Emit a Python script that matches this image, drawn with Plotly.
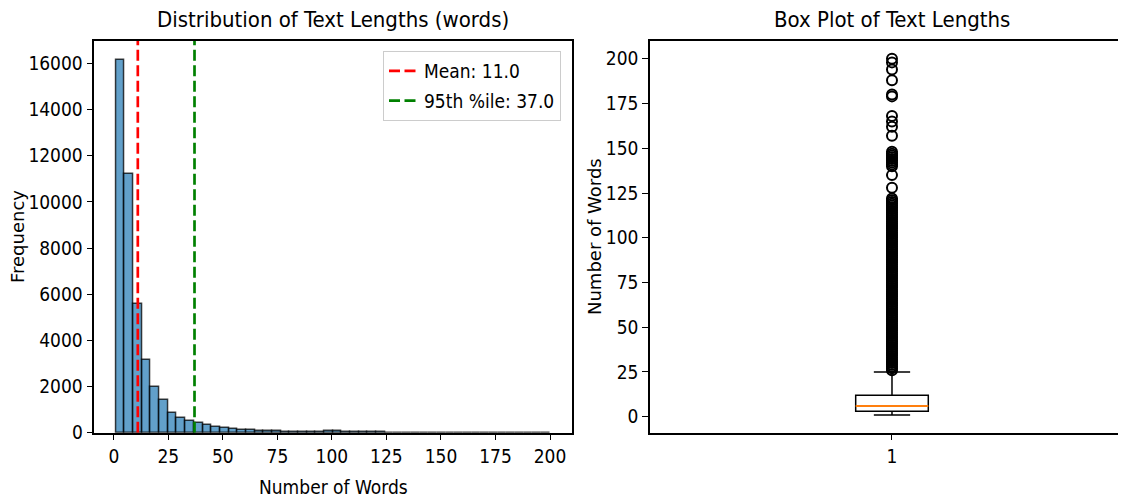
import plotly.graph_objects as go

# ---------------- data ----------------
bin_start = 1.0
bin_width = 3.98
hist_counts = [16160, 11190, 5595, 3170, 1960, 1410, 875, 620, 490, 400,
               330, 260, 190, 145, 115, 100, 75, 60, 55, 50,
               45, 42, 40, 45, 65, 60, 35, 30, 25, 20,
               10, 8, 6, 5, 5, 4, 4, 3, 3, 3,
               2, 2, 2, 2, 1, 1, 1, 1, 1, 2]
mean_val = 11.0
p95_val = 37.0

box_q1 = 3
box_median = 6
box_q3 = 12
box_low = 1
box_high = 25
outliers = [26, 27, 28, 29, 30, 31, 32, 33, 34, 35, 36, 37, 38, 39, 40, 41, 42, 43, 44, 45,
            46, 47, 48, 49, 50, 51, 52, 53, 54, 55, 56, 57, 58, 59, 60, 61, 62, 63, 64, 65,
            66, 67, 68, 69, 70, 71, 72, 73, 74, 75, 76, 77, 78, 79, 80, 81, 82, 83, 84, 85,
            86, 87, 88, 89, 90, 91, 92, 93, 94, 95, 96, 97, 98, 99, 100, 101, 102, 103, 104,
            105, 106, 107, 108, 109, 110, 111, 112, 113, 114, 115, 116, 117, 118, 119, 120,
            121, 122, 128, 135, 140, 141, 142, 143, 144, 145, 146, 147, 148,
            157, 162, 165, 168, 179, 180, 188, 194, 198, 200]

x_ticks_hist = [0, 25, 50, 75, 100, 125, 150, 175, 200]
y_ticks_hist = [0, 2000, 4000, 6000, 8000, 10000, 12000, 14000, 16000]
y_ticks_box = [0, 25, 50, 75, 100, 125, 150, 175, 200]

# ---------------- layout constants ----------------
# the page body has an 8px margin, so the figure is shrunk by that offset
OFF = 8
W, H = 1126 - OFF, 499 - OFF
NARROW = "DejaVu Sans Condensed, DejaVu Sans, sans-serif"
WIDE = "DejaVu Sans, sans-serif"

def px_x(p):
    return (p - OFF) / W

def px_y(p):
    return 1 - (p - OFF) / H

centers = [bin_start + bin_width * (i + 0.5) for i in range(len(hist_counts))]
hist_top = max(hist_counts) * 1.05

fig = go.Figure()

fig.add_trace(go.Bar(
    x=centers, y=hist_counts, width=bin_width,
    marker=dict(color="rgba(31,119,180,0.7)",
                line=dict(color="rgba(0,0,0,0.75)", width=1.5)),
    xaxis="x", yaxis="y", showlegend=False, hoverinfo="skip"))

# box plot
fig.add_trace(go.Box(
    x=[1], q1=[box_q1], median=[box_median], q3=[box_q3],
    lowerfence=[box_low], upperfence=[box_high],
    width=0.15, whiskerwidth=0.5,
    fillcolor="rgba(255,255,255,0)", line=dict(color="black", width=1.5),
    boxpoints=False, xaxis="x2", yaxis="y2", showlegend=False))

fig.add_trace(go.Scatter(
    x=[1] * len(outliers), y=outliers, mode="markers",
    marker=dict(symbol="circle-open", size=10, color="black", line=dict(width=2)),
    xaxis="x2", yaxis="y2", showlegend=False, hoverinfo="skip"))

# median line (orange)
fig.add_trace(go.Scatter(
    x=[1 - 0.075, 1 + 0.075], y=[box_median, box_median], mode="lines",
    line=dict(color="#ff7f0e", width=2),
    xaxis="x2", yaxis="y2", showlegend=False, hoverinfo="skip"))

# vertical reference lines with legend
fig.add_trace(go.Scatter(
    x=[mean_val, mean_val], y=[0, hist_top], mode="lines",
    line=dict(color="red", width=2.7, dash="11px,4.5px"),
    name=f"Mean: {mean_val:.1f}", legendgroup="a",
    xaxis="x", yaxis="y", hoverinfo="skip"))
fig.add_trace(go.Scatter(
    x=[p95_val, p95_val], y=[0, hist_top], mode="lines",
    line=dict(color="green", width=2.7, dash="11px,4.5px"),
    name=f"95th %ile: {p95_val:.1f}", legendgroup="b",
    xaxis="x", yaxis="y", hoverinfo="skip"))

axis_common = dict(showline=True, linecolor="black", linewidth=1.5,
                   ticks="outside", ticklen=6, tickwidth=1.3, tickcolor="black",
                   showgrid=False, zeroline=False,
                   tickfont=dict(family=NARROW, size=19, color="black"))

ytop = px_y(41)
ybot = px_y(432.7)

fig.update_layout(
    width=W, height=H,
    margin=dict(l=0, r=0, t=0, b=0, autoexpand=False),
    paper_bgcolor="white", plot_bgcolor="white",
    bargap=0,
    xaxis=dict(domain=[px_x(94.3), px_x(571.7)], range=[-8.95, 209.95],
               tickvals=x_ticks_hist, mirror=True, anchor="y", **axis_common),
    yaxis=dict(domain=[ybot, ytop], range=[0, hist_top],
               tickvals=y_ticks_hist, tickformat="d", mirror=True, anchor="x", **axis_common),
    xaxis2=dict(domain=[px_x(650), 1.0], range=[0.5, 1.4835],
                tickvals=[1], ticktext=["1"], mirror=True, anchor="y2", **axis_common),
    yaxis2=dict(domain=[ybot, ytop], range=[-8.95, 209.95],
                tickvals=y_ticks_box, mirror=False, anchor="x2", **axis_common),
    legend=dict(x=px_x(383), y=px_y(51), xanchor="left", yanchor="top",
                bgcolor="rgba(255,255,255,0.8)", bordercolor="#cccccc", borderwidth=1,
                font=dict(family=NARROW, size=19, color="black"),
                traceorder="grouped", tracegroupgap=2),
    showlegend=True,
)

# titles
fig.add_annotation(text="Distribution of Text Lengths (words)", x=px_x(333), y=px_y(20),
                   xref="paper", yref="paper", showarrow=False, xanchor="center", yanchor="middle",
                   font=dict(family=NARROW, size=22, color="black"))
fig.add_annotation(text="Box Plot of Text Lengths", x=px_x(892), y=px_y(20),
                   xref="paper", yref="paper", showarrow=False, xanchor="center", yanchor="middle",
                   font=dict(family=NARROW, size=22, color="black"))
# axis labels
fig.add_annotation(text="Number of Words", x=px_x(333), y=px_y(487),
                   xref="paper", yref="paper", showarrow=False, xanchor="center", yanchor="middle",
                   font=dict(family=NARROW, size=19, color="black"))
fig.add_annotation(text="Frequency", x=px_x(18), y=px_y(237), textangle=-90,
                   xref="paper", yref="paper", showarrow=False, xanchor="center", yanchor="middle",
                   font=dict(family=WIDE, size=18, color="black"))
fig.add_annotation(text="Number of Words", x=px_x(595), y=px_y(237), textangle=-90,
                   xref="paper", yref="paper", showarrow=False, xanchor="center", yanchor="middle",
                   font=dict(family=WIDE, size=18, color="black"))

fig.write_html("out.html")
